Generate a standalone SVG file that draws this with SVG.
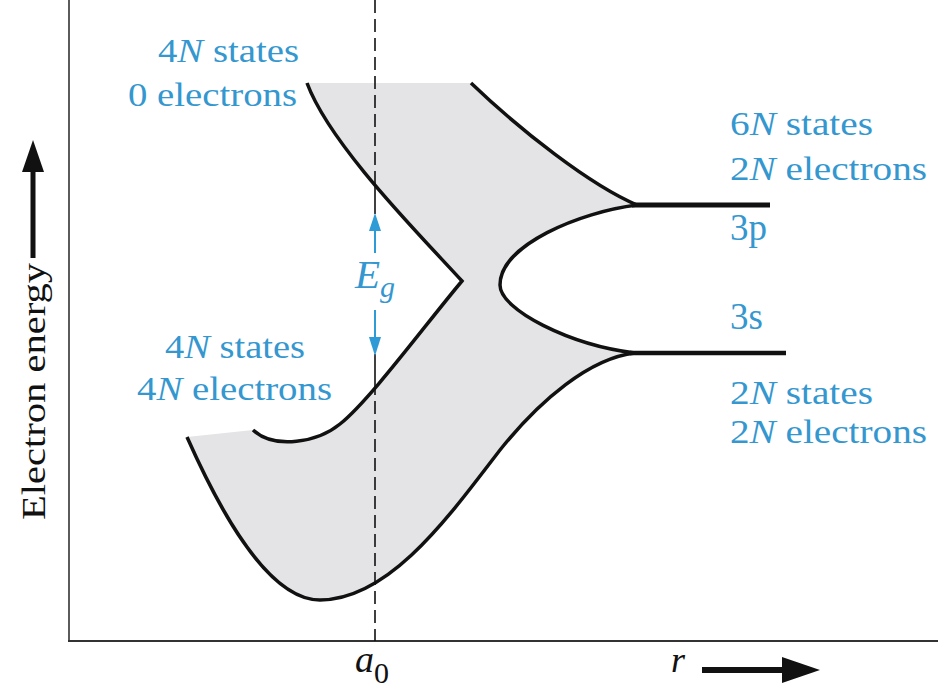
<svg xmlns="http://www.w3.org/2000/svg" width="938" height="691" viewBox="0 0 938 691">
<style>
.lbl{font-family:"Liberation Serif","Times New Roman",serif;font-size:34px;fill:#3497cf}
.ax{font-family:"Liberation Serif","Times New Roman",serif;font-size:34px;fill:#111}
.it{font-style:italic}
.curve{fill:none;stroke:#111;stroke-width:3.5;stroke-linejoin:miter}
.axis{stroke:#333;fill:none}
.blue{stroke:#2e9bd6;stroke-width:2;fill:none}
</style>
<rect width="938" height="691" fill="#fff"/>
<g id="axes">
<line class="axis" x1="69" y1="0" x2="69" y2="641" stroke-width="1.6"/>
<line class="axis" x1="68" y1="641" x2="938" y2="641" stroke-width="2"/>
<rect x="30.5" y="168" width="5" height="90" fill="#111"/>
<polygon points="33,140 22,172 44,172" fill="#111"/>
<text class="ax" transform="translate(45,520) rotate(-90)" textLength="257" lengthAdjust="spacingAndGlyphs">Electron energy</text>
<rect x="702" y="667" width="84" height="6" fill="#111"/>
<polygon points="820,670 782,657 782,683" fill="#111"/>
<text class="ax it" x="671" y="672" style="font-size:36px">r</text>
<text class="ax" x="355" y="672"><tspan class="it" style="font-size:38px">a</tspan><tspan style="font-size:30px" dy="11">0</tspan></text>
</g>
<g id="bands">
<path fill="#e4e4e6" d="M307,83 L471,83 C520,130 590,185 635,205 C580,212 500,245 500,285 C500,310 570,345 635,353 C590,358 540,400 500,450 C450,515 390,600 320,600 C265,600 215,500 187,437 L253,430 C275,450 318,442 340,424 C370,400 425,325 462,281 C420,235 330,145 307,83 Z"/>
<path class="curve" d="M307,83 C330,145 420,235 462,281 C425,325 370,400 340,424 C318,442 275,450 253,430"/>
<path class="curve" d="M471,83 C520,130 590,185 637,205"/>
<path class="curve" d="M637,205 C580,212 500,245 500,285 C500,310 570,345 635,353"/>
<path class="curve" d="M635,353 C590,358 540,400 500,450 C450,515 390,600 320,600 C265,600 215,500 187,437"/>
<line x1="632" y1="205" x2="770" y2="205" stroke="#111" stroke-width="5"/>
<line x1="630" y1="353" x2="786" y2="353" stroke="#111" stroke-width="4.5"/>
</g>
<g id="connectors">
<line x1="375" y1="0" x2="375" y2="183" stroke="#111" stroke-width="1.6" stroke-dasharray="13 6"/>
<line x1="375" y1="183" x2="375" y2="214" stroke="#111" stroke-width="1.6"/>
<line x1="375" y1="354" x2="375" y2="382" stroke="#111" stroke-width="1.6"/>
<line x1="375" y1="382" x2="375" y2="641" stroke="#111" stroke-width="1.6" stroke-dasharray="13 6"/>
<line class="blue" x1="375" y1="253" x2="375" y2="228"/>
<polygon points="375,213 369,231 381,231" fill="#2e9bd6"/>
<line class="blue" x1="375" y1="310" x2="375" y2="340"/>
<polygon points="375,356 369,337 381,337" fill="#2e9bd6"/>
<text class="lbl it" x="355" y="288" style="font-size:41px">E<tspan style="font-size:30px" dy="9">g</tspan></text>
</g>
<g id="labels">
<text class="lbl" x="158" y="62" textLength="141" lengthAdjust="spacingAndGlyphs">4<tspan class="it">N</tspan> states</text>
<text class="lbl" x="128" y="106" textLength="169" lengthAdjust="spacingAndGlyphs">0 electrons</text>
<text class="lbl" x="165" y="358" textLength="140" lengthAdjust="spacingAndGlyphs">4<tspan class="it">N</tspan> states</text>
<text class="lbl" x="137" y="400" textLength="195" lengthAdjust="spacingAndGlyphs">4<tspan class="it">N</tspan> electrons</text>
<text class="lbl" x="730" y="135" textLength="143" lengthAdjust="spacingAndGlyphs">6<tspan class="it">N</tspan> states</text>
<text class="lbl" x="730" y="180" textLength="197" lengthAdjust="spacingAndGlyphs">2<tspan class="it">N</tspan> electrons</text>
<text class="lbl" x="730" y="240" style="font-size:37px">3p</text>
<text class="lbl" x="730" y="329" style="font-size:37px">3s</text>
<text class="lbl" x="730" y="404" textLength="143" lengthAdjust="spacingAndGlyphs">2<tspan class="it">N</tspan> states</text>
<text class="lbl" x="730" y="443" textLength="197" lengthAdjust="spacingAndGlyphs">2<tspan class="it">N</tspan> electrons</text>
</g>
</svg>
